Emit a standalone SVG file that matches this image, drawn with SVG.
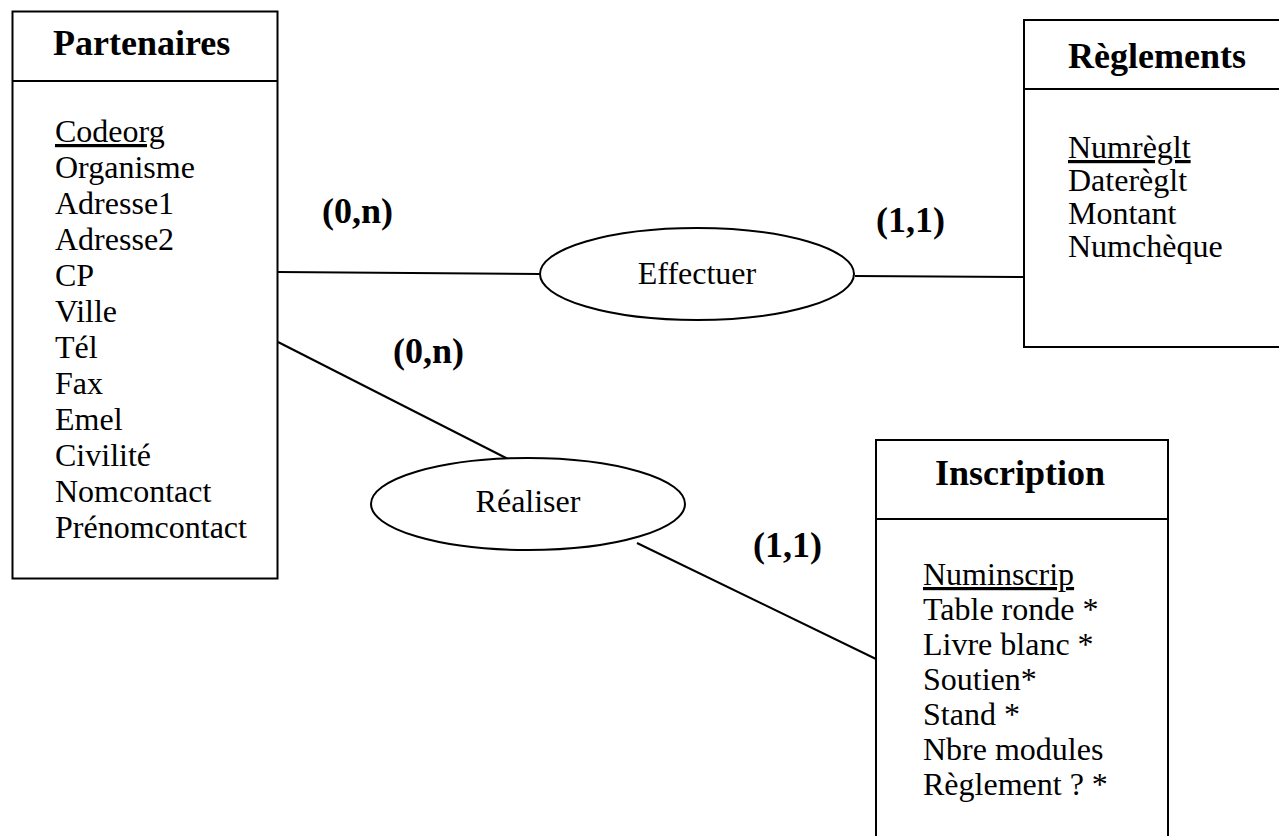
<svg xmlns="http://www.w3.org/2000/svg" width="1279" height="836" viewBox="0 0 1279 836">
<style>
.box{fill:#fff;stroke:#000;stroke-width:2}
.div{stroke:#000;stroke-width:2}
.title{font-family:"Liberation Serif","Times New Roman",serif;font-weight:bold;font-size:36px;fill:#000}
.attr{font-family:"Liberation Serif","Times New Roman",serif;font-size:32px;fill:#000}
.key{text-decoration:underline}
.rel{fill:#fff;stroke:#000;stroke-width:2}
.conn{stroke:#000;stroke-width:2;fill:none}
.card{font-family:"Liberation Serif","Times New Roman",serif;font-weight:bold;font-size:36px;fill:#000}
</style>
<rect width="1279" height="836" fill="#fff"/>
<g id="connectors">
<line class="conn" x1="278" y1="272" x2="540" y2="274"/>
<line class="conn" x1="855" y1="276" x2="1024" y2="277"/>
<line class="conn" x1="278" y1="342" x2="508" y2="459"/>
<line class="conn" x1="637" y1="543" x2="876" y2="659"/>
<text class="card" x="322" y="223">(0,n)</text>
<text class="card" x="876" y="232">(1,1)</text>
<text class="card" x="393" y="363">(0,n)</text>
<text class="card" x="753" y="557">(1,1)</text>
</g>
<g id="partenaires">
<rect class="box" x="12.5" y="11.5" width="265" height="567"/>
<line class="div" x1="12.5" y1="81" x2="277.5" y2="81"/>
<text class="title" x="53" y="55">Partenaires</text>
<text class="attr key" x="55" y="142">Codeorg</text>
<text class="attr" x="55" y="178">Organisme</text>
<text class="attr" x="55" y="214">Adresse1</text>
<text class="attr" x="55" y="250">Adresse2</text>
<text class="attr" x="55" y="286">CP</text>
<text class="attr" x="55" y="322">Ville</text>
<text class="attr" x="55" y="358">Tél</text>
<text class="attr" x="55" y="394">Fax</text>
<text class="attr" x="55" y="430">Emel</text>
<text class="attr" x="55" y="466">Civilité</text>
<text class="attr" x="55" y="502">Nomcontact</text>
<text class="attr" x="55" y="538">Prénomcontact</text>
</g>
<g id="reglements">
<rect class="box" x="1024" y="20" width="270" height="327"/>
<line class="div" x1="1024" y1="89" x2="1294" y2="89"/>
<text class="title" x="1068" y="68">Règlements</text>
<text class="attr key" x="1068" y="158">Numrèglt</text>
<text class="attr" x="1068" y="191">Daterèglt</text>
<text class="attr" x="1068" y="224">Montant</text>
<text class="attr" x="1068" y="257">Numchèque</text>
</g>
<g id="inscription">
<rect class="box" x="876" y="440" width="292" height="420"/>
<line class="div" x1="876" y1="519" x2="1168" y2="519"/>
<text class="title" x="935" y="485">Inscription</text>
<text class="attr key" x="923" y="585">Numinscrip</text>
<text class="attr" x="923" y="620">Table ronde *</text>
<text class="attr" x="923" y="655">Livre blanc *</text>
<text class="attr" x="923" y="690">Soutien*</text>
<text class="attr" x="923" y="725">Stand *</text>
<text class="attr" x="923" y="760">Nbre modules</text>
<text class="attr" x="923" y="795">Règlement ? *</text>
</g>
<g id="effectuer">
<ellipse class="rel" cx="697" cy="274" rx="157" ry="46"/>
<text class="attr" x="697" y="284" text-anchor="middle">Effectuer</text>
</g>
<g id="realiser">
<ellipse class="rel" cx="528" cy="504" rx="157" ry="46"/>
<text class="attr" x="528" y="512" text-anchor="middle">Réaliser</text>
</g>
</svg>
